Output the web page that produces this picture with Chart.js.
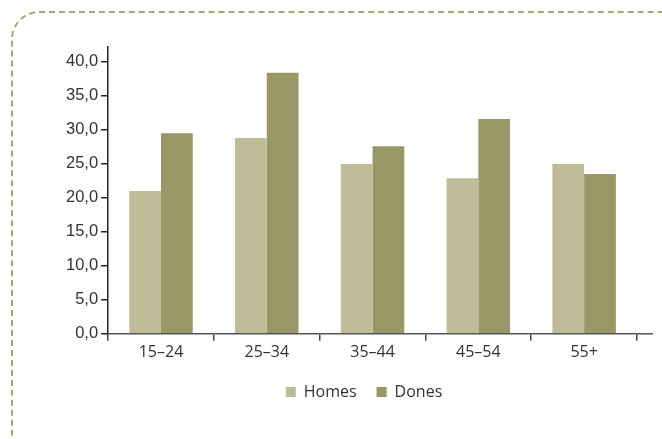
<!DOCTYPE html>
<html>
<head>
<meta charset="utf-8">
<script src="https://cdn.jsdelivr.net/npm/chart.js@4/dist/chart.umd.min.js"></script>
<style>
  html, body { margin: 0; padding: 0; background: #fff; }
  #wrap { position: relative; width: 662px; height: 439px; overflow: hidden; }
  #frame {
    position: absolute; left: 11px; top: 11px; width: 690px; height: 450px;
    border: 2px dashed #a4a774; border-radius: 28px; box-sizing: border-box;
  }
  canvas { position: absolute; left: 0; top: 0; }
</style>
</head>
<body>
<div id="wrap">
  <div id="frame"></div>
  <canvas id="chart" width="662" height="439"></canvas>
</div>
<script>
const categories = ['15–24', '25–34', '35–44', '45–54', '55+'];
const homes = [21.0, 28.8, 25.0, 22.9, 25.0];
const dones = [29.5, 38.4, 27.6, 31.6, 23.5];
const yTicks = [0, 5, 10, 15, 20, 25, 30, 35, 40];

// lengthen the x axis line a bit past the last tick, like the original
const axisExtend = {
  id: 'axisExtend',
  afterDraw(chart) {
    const ctx = chart.ctx;
    const a = chart.chartArea;
    ctx.save();
    ctx.lineWidth = 1.5;
    ctx.strokeStyle = '#555';
    ctx.beginPath();
    ctx.moveTo(a.right, a.bottom);
    ctx.lineTo(a.right + 16, a.bottom);
    ctx.stroke();
    ctx.restore();
  }
};

// the legend sits a little right of the canvas centre in the original
const legendShift = {
  id: 'legendShift',
  afterLayout(chart) {
    chart.legend.left += 14;
    chart.legend.right += 14;
  }
};

new Chart(document.getElementById('chart'), {
  type: 'bar',
  data: {
    labels: categories,
    datasets: [{
      label: 'Homes',
      data: homes,
      backgroundColor: '#bfbc98'
    }, {
      label: 'Dones',
      data: dones,
      backgroundColor: '#999766'
    }]
  },
  options: {
    responsive: false,
    animation: false,
    layout: { padding: { left: 63, right: 25, top: 47, bottom: 29 } },
    datasets: { bar: { categoryPercentage: 0.6, barPercentage: 1.0 } },
    plugins: {
      tooltip: { enabled: false },
      legend: {
        position: 'bottom',
        labels: {
          boxWidth: 10, boxHeight: 10, padding: 20,
          color: '#333',
          font: { family: 'Open Sans', size: 16 }
        }
      }
    },
    scales: {
      x: {
        grid: { drawOnChartArea: false, drawTicks: true, tickLength: 7, color: '#444', lineWidth: 1.5 },
        border: { color: '#555', width: 1.5 },
        ticks: { color: '#333', padding: 2, font: { family: 'Open Sans', size: 16 } }
      },
      y: {
        min: 0,
        max: 42.2,
        afterBuildTicks(scale) { scale.ticks = yTicks.map(v => ({ value: v })); },
        grid: { drawOnChartArea: false, drawTicks: true, tickLength: 7, color: '#222', lineWidth: 1.5 },
        border: { color: '#222', width: 1.5 },
        ticks: {
          color: '#333', padding: 3,
          font: { family: 'Liberation Sans', size: 16.5 },
          callback: v => v.toFixed(1).replace('.', ',')
        }
      }
    }
  },
  plugins: [axisExtend, legendShift]
});
</script>
</body>
</html>
